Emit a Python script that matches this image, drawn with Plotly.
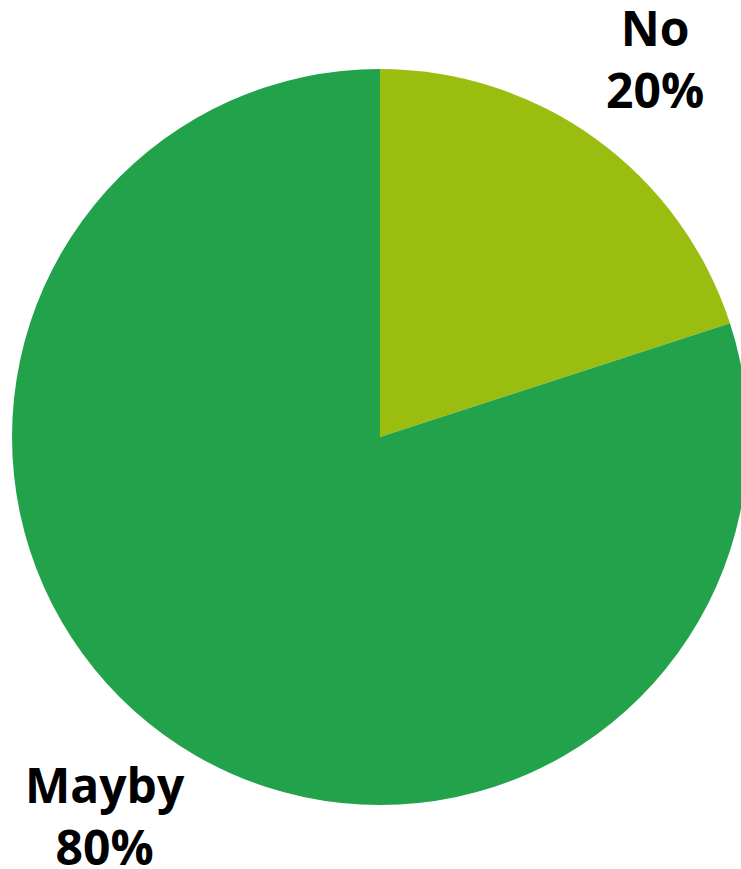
import math
import plotly.graph_objects as go

# Survey answers
labels = ["No", "Mayby"]
values = [20, 80]
colors = ["#9BBD10", "#22A34B"]

W, H = 760, 869          # figure size in px (right edge of the pie runs past the view)
cx, cy, R = 380, 437, 368  # pie centre and radius in px
label_r = 1.27 * R

fig = go.Figure(go.Pie(
    labels=labels,
    values=values,
    marker=dict(colors=colors, line=dict(width=0)),
    sort=False,
    direction="clockwise",
    rotation=0,
    textinfo="none",
    hoverinfo="label+percent",
    domain=dict(x=[0, 1], y=[(H - (cy + R)) / H, (H - (cy - R)) / H]),
))

# Labels placed on each slice's mid-angle ray, outside the pie
total = sum(values)
cum = 0
annotations = []
for lab, v in zip(labels, values):
    mid = (cum + v / 2) / total * 2 * math.pi
    cum += v
    px = cx + label_r * math.sin(mid)
    py = cy - label_r * math.cos(mid)
    annotations.append(dict(
        x=px / W, y=1 - py / H, xref="paper", yref="paper",
        text=f"{lab}<br>{round(100 * v / total)}%",
        showarrow=False, xanchor="center", yanchor="middle",
        font=dict(family="Open Sans", size=48, color="black", weight="bold"),
    ))

fig.update_layout(
    width=W, height=H,
    margin=dict(l=0, r=0, t=0, b=0),
    paper_bgcolor="white",
    plot_bgcolor="white",
    showlegend=False,
    annotations=annotations,
)

fig.write_html("out.html", post_script="document.body.style.overflow='hidden';document.documentElement.style.overflow='hidden';")
